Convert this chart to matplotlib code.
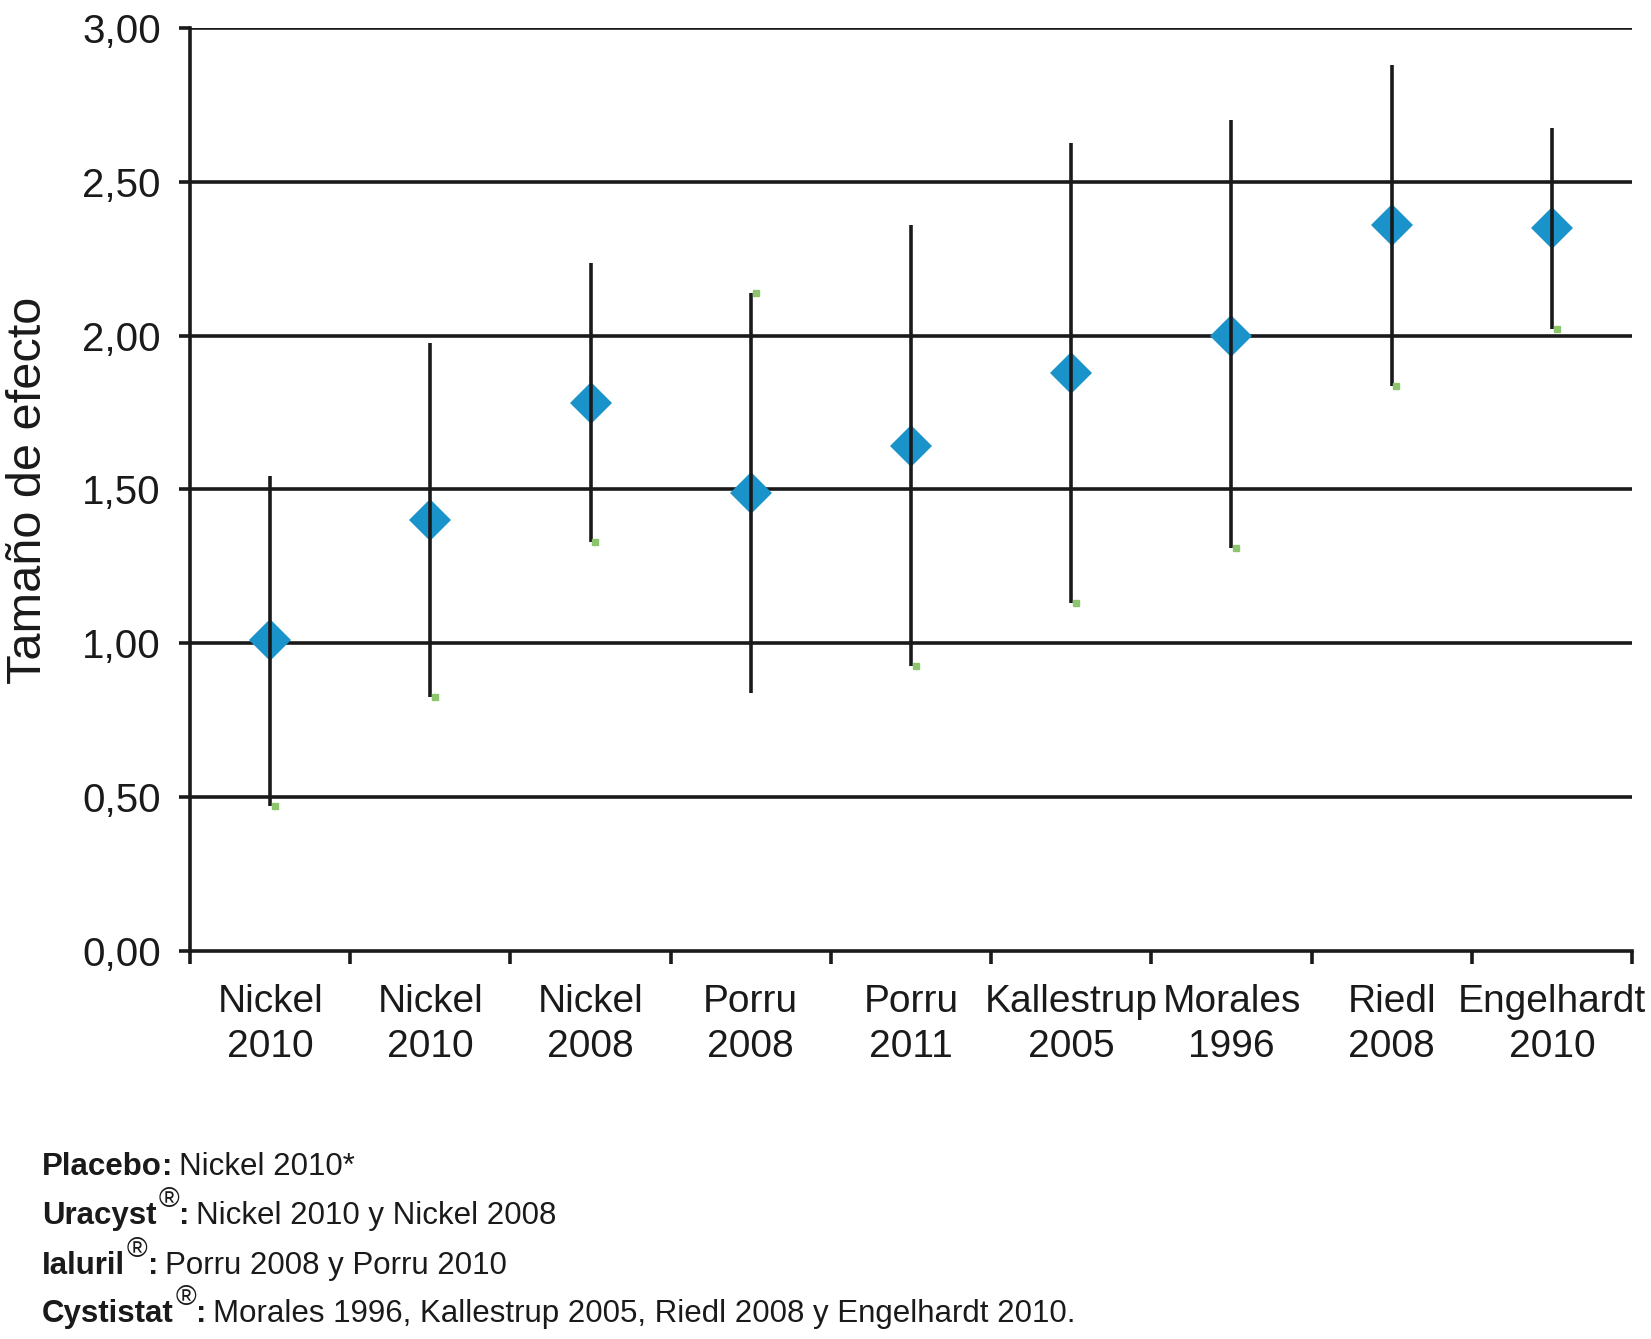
import matplotlib
matplotlib.use("Agg")
import matplotlib.pyplot as plt

plt.rcParams['font.family'] = ['Liberation Sans', 'DejaVu Sans']

# data
studies = ["Nickel\n2010", "Nickel\n2010", "Nickel\n2008", "Porru\n2008", "Porru\n2011",
           "Kallestrup\n2005", "Morales\n1996", "Riedl\n2008", "Engelhardt\n2010"]
effect = [1.01, 1.40, 1.78, 1.49, 1.64, 1.88, 2.00, 2.36, 2.35]
upper = [1.545, 1.975, 2.235, 2.14, 2.36, 2.625, 2.70, 2.88, 2.675]
lower = [0.47, 0.825, 1.33, 0.84, 0.925, 1.13, 1.31, 1.835, 2.02]
green_at_top = [False, False, False, True, False, False, False, False, False]
yticks = [0.0, 0.5, 1.0, 1.5, 2.0, 2.5, 3.0]

notes = [
    ("Placebo", False, "Nickel 2010*"),
    ("Uracyst", True, "Nickel 2010 y Nickel 2008"),
    ("Ialuril", True, "Porru 2008 y Porru 2010"),
    ("Cystistat", True, "Morales 1996, Kallestrup 2005, Riedl 2008 y Engelhardt 2010."),
]

blue = "#1993c9"
green = "#8cc56c"
ink = "#1a1a1a"
lw = 2.6

fig = plt.figure(figsize=(16.51, 13.39), dpi=100)
ax = fig.add_axes([0.1151, 0.2898, 0.9885 - 0.1151, 0.9791 - 0.2898])

x = list(range(len(studies)))

for yv in yticks[1:]:
    ax.axhline(yv, color=ink, lw=lw, zorder=1)

ax.plot(x, effect, linestyle="none", marker="D", markersize=21, color=blue,
        markeredgewidth=0, zorder=3)
ax.vlines(x, lower, upper, color=ink, lw=lw, zorder=4)

gy = [u if t else l for u, l, t in zip(upper, lower, green_at_top)]
gx = [xi + 0.03 for xi in x]
ax.plot(gx, gy, linestyle="none", marker="s", markersize=4, color=green, zorder=5)

ax.set_xlim(-0.5, len(studies) - 0.5)
ax.set_ylim(0, 3.0)

ax.set_yticks(yticks)
ax.set_yticklabels([("%.2f" % v).replace(".", ",") for v in yticks])
ax.tick_params(axis="y", length=8, width=lw, pad=13, labelsize=29, color=ink,
               labelcolor=ink)

ax.set_xticks([i - 0.5 for i in range(len(studies) + 1)])
ax.set_xticklabels([])
ax.set_xticks(x, minor=True)
ax.set_xticklabels(studies, minor=True, fontsize=28, color=ink, linespacing=1.3)
ax.tick_params(axis="x", which="major", length=9, width=lw, color=ink)
ax.tick_params(axis="x", which="minor", length=0, pad=24)

for s in ["top", "right"]:
    ax.spines[s].set_visible(False)
for s in ["left", "bottom"]:
    ax.spines[s].set_linewidth(lw)
    ax.spines[s].set_color(ink)

fig.text(0.017, 0.634, "Tamaño de efecto", rotation=90, fontsize=35, color=ink,
         ha="center", va="center")

# footnotes: bold name, superscript mark, then plain text
fig.canvas.draw()
renderer = fig.canvas.get_renderer()
fs = 22.5
ys = [1167, 1216, 1266, 1314]
for (name, reg, rest), ypx in zip(notes, ys):
    y = 1 - ypx / 1339
    xp = 42
    t = fig.text(xp / 1651, y, name, fontsize=fs, fontweight="bold", va="center", color=ink)
    xp = t.get_window_extent(renderer).x1
    if reg:
        t = fig.text(xp / 1651 + 0.001, y + 0.012, "®", fontsize=fs * 0.9, va="center",
                     color=ink)
        xp = t.get_window_extent(renderer).x1
    t = fig.text(xp / 1651, y, ":", fontsize=fs, fontweight="bold", va="center", color=ink)
    xp = t.get_window_extent(renderer).x1
    fig.text(xp / 1651 + 0.004, y, rest, fontsize=fs, va="center", color=ink)

fig.savefig("out.png", dpi=100)
